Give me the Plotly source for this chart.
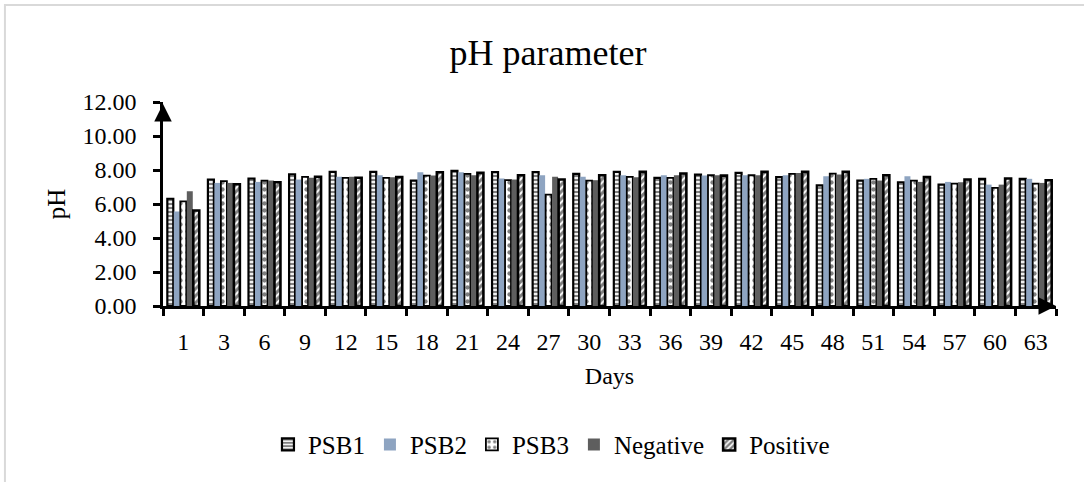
import plotly.graph_objects as go

days = ["1", "3", "6", "9", "12", "15", "18", "21", "24", "27", "30",
        "33", "36", "39", "42", "45", "48", "51", "54", "57", "60", "63"]

psb1 = [6.31, 7.44, 7.50, 7.75, 7.89, 7.89, 7.38, 7.95, 7.87, 7.87, 7.77,
        7.89, 7.54, 7.73, 7.83, 7.58, 7.10, 7.38, 7.28, 7.14, 7.48, 7.48]
psb2 = [5.56, 7.24, 7.30, 7.44, 7.60, 7.69, 7.87, 7.87, 7.50, 7.69, 7.60,
        7.69, 7.69, 7.67, 7.69, 7.69, 7.63, 7.48, 7.63, 7.30, 7.14, 7.48]
psb3 = [6.15, 7.34, 7.38, 7.60, 7.54, 7.54, 7.67, 7.77, 7.40, 6.55, 7.38,
        7.60, 7.54, 7.69, 7.69, 7.77, 7.79, 7.48, 7.38, 7.20, 6.95, 7.20]
negative = [6.75, 7.24, 7.38, 7.54, 7.60, 7.58, 7.67, 7.69, 7.44, 7.60, 7.40,
            7.58, 7.69, 7.69, 7.69, 7.83, 7.73, 7.38, 7.30, 7.28, 7.14, 7.24]
positive = [5.62, 7.16, 7.28, 7.60, 7.54, 7.58, 7.87, 7.83, 7.69, 7.44, 7.69,
            7.89, 7.79, 7.67, 7.89, 7.89, 7.89, 7.69, 7.58, 7.44, 7.50, 7.40]

y_ticks = [0, 2, 4, 6, 8, 10, 12]

FONT = "Liberation Serif"
n = len(days)

fig = go.Figure()
fig.add_trace(go.Bar(
    name="PSB1", x=days, y=psb1,
    marker=dict(color="white", line=dict(color="black", width=2.2),
                pattern=dict(shape="-", fgcolor="black", bgcolor="white",
                             size=4, solidity=0.55)),
))
fig.add_trace(go.Bar(
    name="PSB2", x=days, y=psb2,
    marker=dict(color="#8EA4C1", line=dict(width=0)),
))
fig.add_trace(go.Bar(
    name="PSB3", x=days, y=psb3,
    marker=dict(color="white", line=dict(color="black", width=1.8),
                pattern=dict(shape=".", fgcolor="black", bgcolor="white",
                             size=7, solidity=0.3)),
))
fig.add_trace(go.Bar(
    name="Negative", x=days, y=negative,
    marker=dict(color="#5E5E5E", line=dict(width=0)),
))
fig.add_trace(go.Bar(
    name="Positive", x=days, y=positive,
    marker=dict(color="white", line=dict(color="black", width=2.6),
                pattern=dict(shape="/", fgcolor="black", bgcolor="white",
                             size=5, solidity=0.6)),
))

boundaries = [i - 0.5 for i in range(n + 1)]
centers = list(range(n))

fig.update_layout(
    width=1084, height=482,
    margin=dict(l=163, r=28, t=102, b=176),
    paper_bgcolor="white", plot_bgcolor="white",
    font=dict(family=FONT, color="black", size=24),
    title=dict(text="pH parameter", x=0.5055, xanchor="center",
               y=1 - 52 / 482, yanchor="middle", xref="container", yref="container",
               font=dict(family=FONT, size=36, color="black")),
    barmode="group", bargap=0.2, bargroupgap=0.08,
    showlegend=True,
    legend=dict(orientation="h", x=0.435, xanchor="center", y=-0.68, yanchor="middle",
                font=dict(family=FONT, size=25, color="black"),
                bgcolor="rgba(0,0,0,0)", traceorder="normal"),
    xaxis=dict(type="category", categoryorder="array", categoryarray=days,
               range=[-0.5, n - 0.5],
               showline=True, linecolor="black", linewidth=2.5,
               ticks="outside", tickson="boundaries", ticklen=7, tickwidth=2.5,
               tickcolor="black", showgrid=False, zeroline=False,
               ticklabelstandoff=12,
               tickfont=dict(family=FONT, size=24, color="black"),
               title=dict(text="Days", standoff=14,
                          font=dict(family=FONT, size=24, color="black"))),
    xaxis2=dict(overlaying="x", anchor="y", side="bottom", range=[-0.5, n - 0.5],
                tickmode="array", tickvals=boundaries, ticks="inside", ticklen=7,
                tickwidth=2.5, tickcolor="black", showticklabels=False,
                showline=False, showgrid=False, zeroline=False,
                minor=dict(tickmode="array", tickvals=centers, ticks="outside",
                           ticklen=7, tickwidth=2.5, tickcolor="black", showgrid=False)),
    yaxis=dict(range=[0, 12], tickmode="array", tickvals=y_ticks,
               ticktext=[f"{v:.2f}" for v in y_ticks],
               showline=True, linecolor="black", linewidth=2.5,
               ticks="outside", ticklen=7, tickwidth=2.5, tickcolor="black",
               showgrid=False, zeroline=False, ticklabelstandoff=12,
               tickfont=dict(family=FONT, size=24, color="black"),
               title=dict(text="pH", standoff=10,
                          font=dict(family=FONT, size=25, color="black"))),
    yaxis2=dict(overlaying="y", anchor="x", side="left", range=[0, 12],
                tickmode="array", tickvals=y_ticks, ticks="inside", ticklen=7,
                tickwidth=2.5, tickcolor="black", showticklabels=False,
                showline=False, showgrid=False, zeroline=False),
)

# axis arrows
fig.add_annotation(x=0, xref="paper", y=12, yref="y", ax=0, ay=16,
                   text="", showarrow=True,
                   arrowhead=2, arrowsize=1.4, arrowwidth=2.5, arrowcolor="black",
                   standoff=2)
fig.add_annotation(x=1, xref="paper", y=0, yref="y", ax=-16, ay=0,
                   text="", showarrow=True,
                   arrowhead=2, arrowsize=1.4, arrowwidth=2.5, arrowcolor="black")

# chart border
fig.add_shape(type="rect", xref="paper", yref="paper",
              x0=-0.177, x1=1.04, y0=-0.92, y1=1.476,
              line=dict(color="#D9D9D9", width=2), fillcolor="rgba(0,0,0,0)",
              layer="below")

fig.write_html("out.html")
